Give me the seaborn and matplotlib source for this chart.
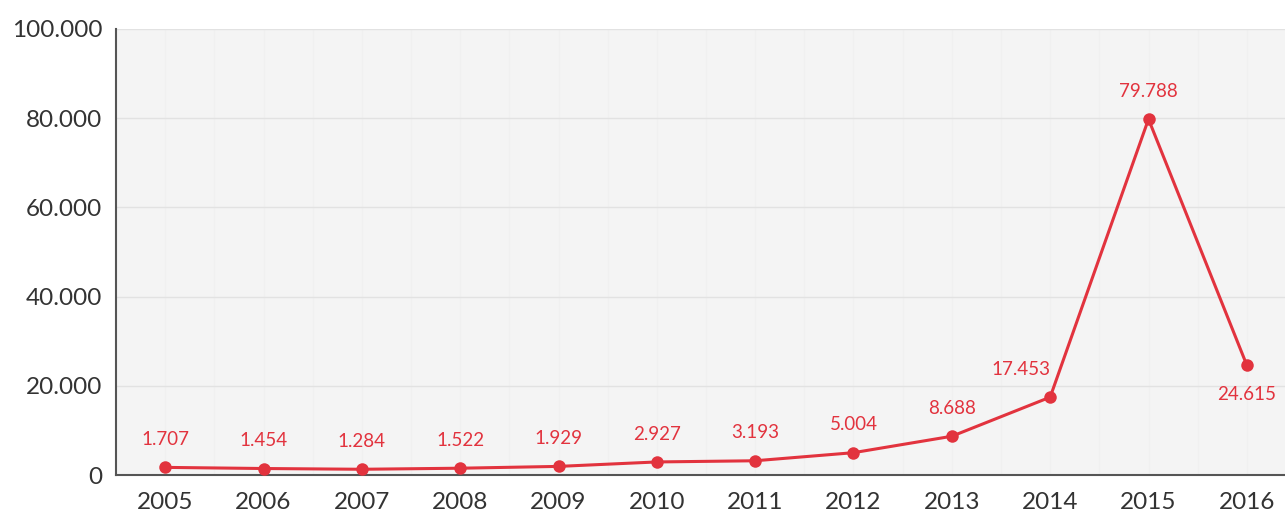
import pandas as pd
import matplotlib.pyplot as plt
import seaborn as sns

# data
years = ["2005", "2006", "2007", "2008", "2009", "2010", "2011", "2012", "2013", "2014", "2015", "2016"]
values = [1707, 1454, 1284, 1522, 1929, 2927, 3193, 5004, 8688, 17453, 79788, 24615]
yticks = [0, 20000, 40000, 60000, 80000, 100000]

df = pd.DataFrame({"year": years, "value": values})

red = "#e2333e"

sns.set_theme(style="white")
plt.rcParams["font.family"] = ["Lato", "DejaVu Sans"]

fig = plt.figure(figsize=(12.85, 5.13), dpi=100)
# plot area runs past the right edge in the reference
ax = fig.add_axes([116 / 1285, 38 / 513, 1180 / 1285, 446 / 513])
ax.set_facecolor("#f4f4f4")

# faint vertical guides
for i in range(len(years)):
    ax.axvline(i, color="#f0f0f0", lw=1, zorder=0)
    ax.axvline(i + 0.5, color="#f0f0f0", lw=1, zorder=0)

sns.lineplot(data=df, x="year", y="value", ax=ax, color=red, lw=2.2,
             marker="o", markersize=9, markeredgewidth=0, sort=False, zorder=3)

ax.set_xlim(-0.5, len(years) - 0.5)
ax.set_ylim(0, 100000)
ax.set_yticks(yticks)
ax.set_yticklabels(["0" if v == 0 else f"{v // 1000}.000" for v in yticks])
ax.yaxis.grid(True, color="#e2e2e2", lw=1)
ax.set_axisbelow(True)

ax.set_xlabel("")
ax.set_ylabel("")
ax.tick_params(axis="both", labelsize=17.5, colors="#333333", length=0)
ax.tick_params(axis="x", pad=12)
ax.tick_params(axis="y", pad=10)

for s in ["top", "right"]:
    ax.spines[s].set_visible(False)
for s in ["left", "bottom"]:
    ax.spines[s].set_color("#555555")
    ax.spines[s].set_linewidth(1.5)

# value labels
for i, v in enumerate(values):
    txt = f"{v // 1000}.{v % 1000:03d}"
    dx, dy, va = 0, 14, "bottom"
    if years[i] == "2014":
        dx = -21
    if years[i] == "2016":
        dx, dy, va = 0, -15, "top"
    ax.annotate(txt, (i, v), xytext=(dx, dy), textcoords="offset points",
                ha="center", va=va, fontsize=13.5, color=red)

fig.savefig("out.png", dpi=100)
